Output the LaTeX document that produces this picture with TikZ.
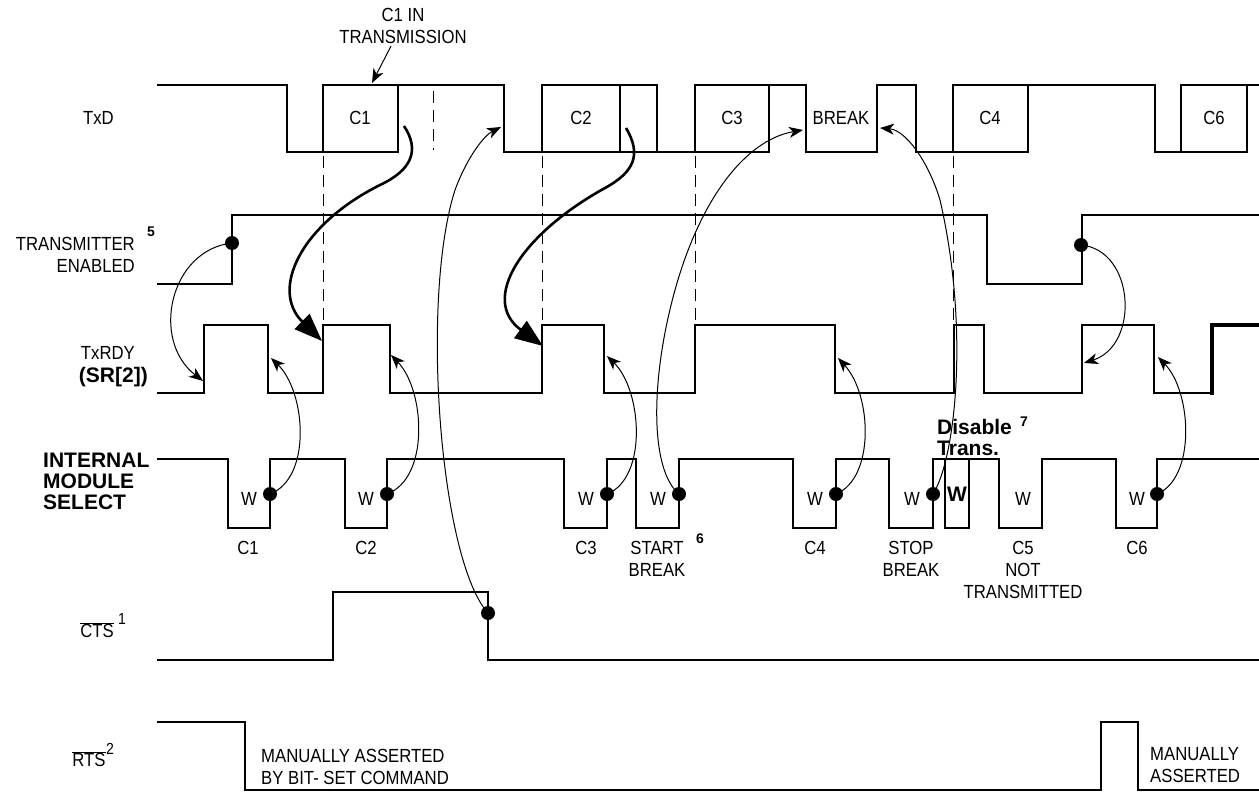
\documentclass[tikz,border=0pt]{standalone}
\usepackage{fontspec}
\setmainfont{Liberation Sans}[FakeStretch=0.88]
\newfontfamily\boldsans{Liberation Sans}
\usepackage{tikz}
\usetikzlibrary{arrows.meta}
\newcommand{\sigtext}{\fontsize{19}{22}\selectfont}
\newcommand{\sigbold}{\boldsans\fontsize{21}{21}\selectfont\bfseries}
\newcommand{\notefont}{\boldsans\fontsize{14}{14}\selectfont\bfseries}
\newcommand{\supfont}{\fontsize{16}{16}\selectfont}

\begin{document}
\begin{tikzpicture}[x=1pt,y=-1pt,
  every node/.style={font=\sigtext,inner sep=0pt},
  wave/.style={line width=2pt,line join=miter},
  guide/.style={line width=0.8pt,dash pattern=on 12pt off 7pt},
  cause/.style={-{Stealth[length=14pt,width=11pt,inset=4pt]},line width=1pt},
  push/.style={-{Triangle[length=28pt,width=21pt]},line width=2.6pt},
  dot/.style={circle,fill,inner sep=0pt,minimum size=14pt},
  boldlbl/.style={font=\sigbold,align=left}
]
  \useasboundingbox (0,0) rectangle (1259,792);

  % signal names
  \node[anchor=east] (ltxd) at (114,118) {TxD};
  \node[anchor=east,align=right] (lte) at (135,255) {TRANSMITTER\\ENABLED};
  \node[font=\notefont] (n5) at (151,232) {5};
  \node[anchor=east] (lrdy) at (135,353) {TxRDY};
  \node[anchor=east,font=\sigbold] (lsr) at (148,377) {(SR[2])};
  \node[boldlbl,anchor=west] (lims) at (43,481) {INTERNAL\\MODULE\\SELECT};
  \node (lcts) at (97,630) {$\overline{\mbox{CTS}}$};
  \node[font=\supfont] (n1) at (122,619) {1};
  \node (lrts) at (89,759) {$\overline{\mbox{RTS}}$};
  \node[font=\supfont] (n2) at (110,749) {2};

  % TxD
  \draw[wave] (157,85) -- (287,85) -- (287,152) -- (323,152) -- (323,85) -- (504,85) -- (504,152)
    -- (542,152) -- (542,85) -- (657,85) -- (657,152) -- (695,152) -- (695,85) -- (806,85)
    -- (806,152) -- (877,152) -- (877,85) -- (916,85) -- (916,152) -- (953,152) -- (953,85)
    -- (1155,85) -- (1155,152) -- (1181,152) -- (1181,85) -- (1259,85);
  \foreach \a/\b in {323/398,542/620,695/769,953/1028,1181/1247}
    \draw[wave] (\a,152) -- (\b,152) -- (\b,85);
  \draw[wave] (620,152) -- (657,152);
  \foreach \x/\t in {360/C1,581/C2,732/C3,841/BREAK,990/C4,1214/C6}
    \node (tx\t) at (\x,118) {\t};

  % transmitter enabled
  \draw[wave] (157,284) -- (232,284) -- (232,215) -- (987,215) -- (987,284) -- (1082,284)
    -- (1082,215) -- (1259,215);

  % TxRDY
  \draw[wave] (157,393) -- (204,393) -- (204,325) -- (268,325) -- (268,393) -- (323,393)
    -- (323,325) -- (390,325) -- (390,393) -- (542,393) -- (542,325) -- (604,325) -- (604,393)
    -- (695,393) -- (695,325) -- (835,325) -- (835,393) -- (954,393) -- (954,325) -- (984,325)
    -- (984,393) -- (1082,393) -- (1082,325) -- (1154,325) -- (1154,393) -- (1212,393);
  \draw[line width=3.2pt] (1212,394.5) -- (1212,325) -- (1259,325);

  % internal module select
  \draw[wave] (157,459) -- (228,459) -- (228,528) -- (270,528) -- (270,459) -- (345,459)
    -- (345,528) -- (387,528) -- (387,459) -- (564,459) -- (564,528) -- (607,528) -- (607,459)
    -- (636,459) -- (636,528) -- (679,528) -- (679,459) -- (793,459) -- (793,528) -- (836,528)
    -- (836,459) -- (889,459) -- (889,528) -- (933,528) -- (933,459) -- (999,459) -- (999,528)
    -- (1042,528) -- (1042,459) -- (1116,459) -- (1116,528) -- (1157,528) -- (1157,459) -- (1259,459);
  \draw[line width=2.6pt] (945,459) rectangle (969,528);

  % CTS and RTS
  \draw[wave] (157,660) -- (333,660) -- (333,592) -- (488,592) -- (488,660) -- (1259,660);
  \draw[wave] (157,722) -- (245,722) -- (245,790) -- (1101,790) -- (1101,722) -- (1138,722)
    -- (1138,790) -- (1259,790);

  % dashed guides
  \draw[guide] (433,91) -- (433,150);
  \foreach \x in {323,542,695,953}
    \draw[guide] (\x,156) -- (\x,325);

  % write strobes
  \foreach \x in {249,366,586,658,815,912,1023,1137}
    \node at (\x,499) {W};
  \node[font=\sigbold] (wdis) at (957,494) {W};
  \foreach \x/\t in {248/C1,366/C2,586/C3,815/C4,1137/C6}
    \node (ims\t) at (\x,548) {\t};
  \node[align=center] (sbrk) at (657,559) {START\\BREAK};
  \node[font=\notefont] (n6) at (700,539) {6};
  \node[align=center] (pbrk) at (911,559) {STOP\\BREAK};
  \node[align=center] (c5) at (1023,570) {C5\\NOT\\TRANSMITTED};
  \node[font=\sigbold,align=left,anchor=west] (dis) at (937,437) {Disable\\Trans.};
  \node[font=\notefont] (n7) at (1024,422) {7};

  \node (rtsa) at (261,767) [anchor=west,align=left] {MANUALLY ASSERTED\\BY BIT- SET COMMAND};
  \node (rtsb) at (1150,765) [anchor=west,align=left] {MANUALLY\\ASSERTED};

  % dots
  \node[dot] (te1) at (232,243) {};
  \node[dot] (te2) at (1081,245) {};
  \node[dot] (ctsd) at (488,613) {};
  \foreach \x/\n in {270/w1,387/w2,607/w3,679/w4,836/w5,933/w6,1157/w7}
    \node[dot] (\n) at (\x,494) {};

  % arrow ends
  \node[align=center] (c1in) at (403,26) {C1 IN\\TRANSMISSION};
  \coordinate (c1tail) at (391,46);
  \coordinate (c1top) at (372,83);
  \coordinate (c1out) at (404,126);
  \coordinate (c2out) at (626,128);
  \coordinate (rdy1) at (322,341);
  \coordinate (rdy2) at (543,346);
  \coordinate (rdyA) at (203,381);
  \coordinate (rdyB) at (271,358);
  \coordinate (rdyC) at (391,355);
  \coordinate (rdyD) at (607,356);
  \coordinate (rdyE) at (838,358);
  \coordinate (rdyF) at (1084,363);
  \coordinate (rdyG) at (1158,357);
  \coordinate (txfall) at (501,127);
  \coordinate (brkin) at (803,130);
  \coordinate (brkout) at (880,128);

  \draw[cause] (c1tail) -- (c1top);
  \draw[push] (c1out) .. controls (420,150) and (412,170) .. (380,185)
    .. controls (300,225) and (270,290) .. (rdy1);
  \draw[push] (c2out) .. controls (642,155) and (634,172) .. (605,188)
    .. controls (520,235) and (480,300) .. (rdy2);
  \draw[cause] (te1.center) .. controls (170,250) and (150,340) .. (rdyA);
  \draw[cause] (w1.center) .. controls (312,478) and (306,392) .. (rdyB);
  \draw[cause] (w2.center) .. controls (430,478) and (425,390) .. (rdyC);
  \draw[cause] (w3.center) .. controls (648,478) and (642,390) .. (rdyD);
  \draw[cause] (w5.center) .. controls (875,478) and (872,395) .. (rdyE);
  \draw[cause] (te2.center) .. controls (1135,250) and (1140,345) .. (rdyF);
  \draw[cause] (w7.center) .. controls (1196,478) and (1192,392) .. (rdyG);
  \draw[cause] (ctsd.center) .. controls (440,560) and (420,300) .. (455,190)
    .. controls (468,155) and (485,135) .. (txfall);
  \draw[cause] (w4.center) .. controls (650,470) and (650,380) .. (675,290)
    .. controls (700,200) and (745,140) .. (brkin);
  \draw[cause] (w6.center) .. controls (955,460) and (970,330) .. (940,200)
    .. controls (928,160) and (905,130) .. (brkout);
\end{tikzpicture}
\end{document}
